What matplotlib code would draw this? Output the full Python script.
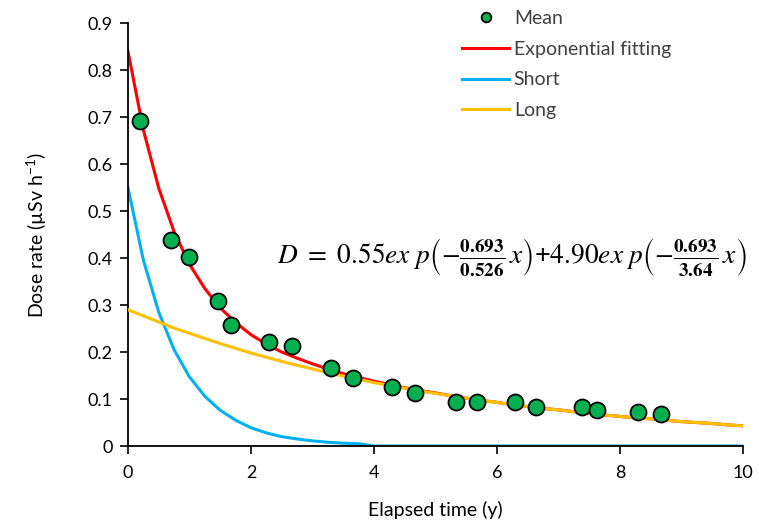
import matplotlib.pyplot as plt
from matplotlib.lines import Line2D

plt.rcParams['font.family'] = ['Lato', 'DejaVu Sans']
plt.rcParams['mathtext.fontset'] = 'stix'

# measured mean dose rates
mean_t = [0.2, 0.7, 1.0, 1.46, 1.67, 2.3, 2.67, 3.3, 3.66, 4.3, 4.67,
          5.33, 5.67, 6.3, 6.63, 7.38, 7.63, 8.3, 8.66]
mean_d = [0.691, 0.438, 0.402, 0.309, 0.257, 0.221, 0.213, 0.166, 0.145, 0.126, 0.112,
          0.094, 0.094, 0.094, 0.084, 0.084, 0.077, 0.072, 0.069]

# fitted curves, tabulated every 0.25 y
t = [i * 0.25 for i in range(41)]
short = [0.550, 0.396, 0.285, 0.205, 0.147, 0.106, 0.076, 0.055, 0.039, 0.028,
         0.020, 0.015, 0.011, 0.008, 0.006, 0.005, 0.000, 0.000, 0.000, 0.000,
         0.000, 0.000, 0.000, 0.000, 0.000, 0.000, 0.000, 0.000, 0.000, 0.000,
         0.000, 0.000, 0.000, 0.000, 0.000, 0.000, 0.000, 0.000, 0.000, 0.000, 0.000]
long_ = [0.290, 0.277, 0.264, 0.251, 0.240, 0.229, 0.218, 0.208, 0.198, 0.189,
         0.180, 0.172, 0.164, 0.156, 0.149, 0.142, 0.135, 0.129, 0.123, 0.117,
         0.112, 0.107, 0.102, 0.097, 0.093, 0.088, 0.084, 0.080, 0.077, 0.073,
         0.070, 0.066, 0.063, 0.060, 0.058, 0.055, 0.052, 0.050, 0.048, 0.045, 0.043]
fit = [0.840, 0.673, 0.549, 0.456, 0.387, 0.335, 0.294, 0.263, 0.237, 0.217,
       0.200, 0.187, 0.175, 0.164, 0.154, 0.146, 0.138, 0.131, 0.124, 0.118,
       0.113, 0.107, 0.102, 0.097, 0.093, 0.088, 0.084, 0.080, 0.077, 0.073,
       0.070, 0.066, 0.063, 0.060, 0.058, 0.055, 0.052, 0.050, 0.048, 0.045, 0.043]

fig = plt.figure(figsize=(7.59, 5.26), dpi=100)
ax = fig.add_axes([0.1686, 0.152, 0.8104, 0.804])

ax.plot(t, fit, color='#FF0000', lw=2.2, zorder=2)
ax.plot(t, short, color='#00B0F0', lw=2.2, zorder=2)
ax.plot(t, long_, color='#FFC000', lw=2.2, zorder=3)
ax.plot(mean_t, mean_d, 'o', color='#00B050', mec='black', mew=1.3, ms=11.5, zorder=4)

ax.set_xlim(0, 10)
ax.set_ylim(0, 0.9)
ax.set_xticks([0, 2, 4, 6, 8, 10])
ax.set_yticks([0, 0.1, 0.2, 0.3, 0.4, 0.5, 0.6, 0.7, 0.8, 0.9])
ax.set_yticklabels(['0', '0.1', '0.2', '0.3', '0.4', '0.5', '0.6', '0.7', '0.8', '0.9'])
ax.tick_params(labelsize=13, length=6, width=1.2, direction='out')
ax.tick_params(axis='x', pad=8)
ax.tick_params(axis='y', pad=5)
for s in ['top', 'right']:
    ax.spines[s].set_visible(False)
for s in ['left', 'bottom']:
    ax.spines[s].set_linewidth(1.3)

ax.set_xlabel('Elapsed time (y)', fontsize=14, labelpad=14)
ax.set_ylabel(r'Dose rate (µSv h$\mathregular{^{-1}}$)', fontsize=14, labelpad=28)

# fitted equation
ax.text(2.42, 0.40,
        r'$D\ =\ 0.55ex\ p\left(-\frac{\mathbf{0.693}}{\mathbf{0.526}}\,x\right)$'
        r'+$4.90ex\ p\left(-\frac{\mathbf{0.693}}{\mathbf{3.64}}\,x\right)$',
        fontsize=19.7, va='center', ha='left')

handles = [
    Line2D([], [], ls='none', marker='o', color='#00B050', mec='black', mew=1.3, ms=7),
    Line2D([], [], color='#FF0000', lw=2.2),
    Line2D([], [], color='#00B0F0', lw=2.2),
    Line2D([], [], color='#FFC000', lw=2.2),
]
labels = ['Mean', 'Exponential fitting', 'Short', 'Long']
leg = fig.legend(handles, labels, loc='upper left', bbox_to_anchor=(0.586, 1.014),
                 frameon=False, fontsize=14, handlelength=2.4, handletextpad=0.25,
                 labelspacing=0.7)
for txt in leg.get_texts():
    txt.set_color('#404040')

plt.savefig('out.png', dpi=100)
